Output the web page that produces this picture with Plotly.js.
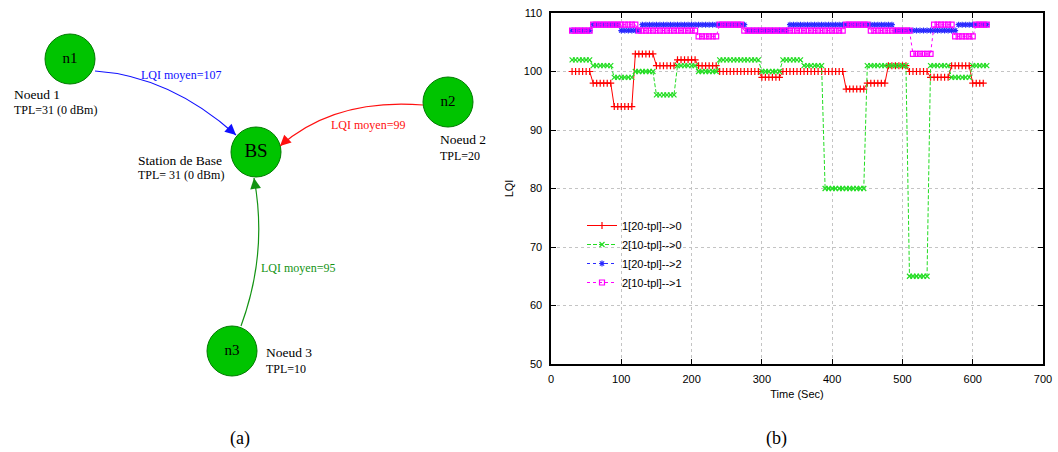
<!DOCTYPE html>
<html>
<head>
<meta charset="utf-8">
<script src="https://cdn.plot.ly/plotly-3.0.1.min.js"></script>
<style>html,body{margin:0;padding:0;background:#fff;}#chart{width:1058px;height:452px;}</style>
</head>
<body>
<div id="chart"></div>
<script>
// ---------- Panel (b) data: LQI vs time ----------
const time = [
  30,35,40,45,50,55,60,65,70,75,
  80,85,90,95,100,105,110,115,120,125,
  130,135,140,145,150,155,160,165,170,175,
  180,185,190,195,200,205,210,215,220,225,
  230,235,240,245,250,255,260,265,270,275,
  280,285,290,295,300,305,310,315,320,325,
  330,335,340,345,350,355,360,365,370,375,
  380,385,390,395,400,405,410,415,420,425,
  430,435,440,445,450,455,460,465,470,475,
  480,485,490,495,500,505,510,515,520,525,
  530,535,540,545,550,555,560,565,570,575,
  580,585,590,595,600,605,610,615,620
];
const lqi_1_to_0 = [
  100,100,100,100,100,100,98,98,98,98,
  98,98,94,94,94,94,94,94,103,103,
  103,103,103,103,101,101,101,101,101,101,
  102,102,102,102,102,102,101,101,101,101,
  101,101,100,100,100,100,100,100,100,100,
  100,100,100,100,99,99,99,99,99,99,
  100,100,100,100,100,100,100,100,100,100,
  100,100,100,100,100,100,100,100,97,97,
  97,97,97,97,98,98,98,98,98,98,
  101,101,101,101,101,101,100,100,100,100,
  100,100,99,99,99,99,99,99,101,101,
  101,101,101,101,98,98,98,98,null
];
const lqi_2_to_0 = [
  102,102,102,102,102,102,101,101,101,101,
  101,101,99,99,99,99,99,99,100,100,
  100,100,100,100,96,96,96,96,96,96,
  101,101,101,101,101,101,100,100,100,100,
  100,100,102,102,102,102,102,102,102,102,
  102,102,102,102,100,100,100,100,100,100,
  102,102,102,102,102,102,101,101,101,101,
  101,101,80,80,80,80,80,80,80,80,
  80,80,80,80,101,101,101,101,101,101,
  101,101,101,101,101,101,65,65,65,65,
  65,65,101,101,101,101,101,101,99,99,
  99,99,99,99,101,101,101,101,101
];
const lqi_1_to_2 = [
  107,107,107,107,107,107,108,108,108,108,
  108,108,108,108,107,107,107,107,107,107,
  108,108,108,108,108,108,108,108,108,108,
  108,108,108,108,108,108,108,108,108,108,
  108,108,108,108,108,108,108,108,108,108,
  107,107,107,107,107,107,107,107,107,107,
  107,107,108,108,108,108,108,108,108,108,
  108,108,108,108,108,108,108,108,108,108,
  108,108,108,108,108,108,108,108,108,108,
  108,108,107,107,107,107,107,107,107,107,
  107,107,107,107,107,107,107,107,107,107,
  108,108,108,108,108,108,108,108,108
];
const lqi_2_to_1 = [
  107,107,107,107,107,107,108,108,108,108,
  108,108,108,108,108,108,108,108,108,107,
  107,107,107,107,107,107,107,107,107,107,
  107,107,107,107,107,107,106,106,106,106,
  106,106,108,108,108,108,108,108,108,107,
  107,107,107,107,107,107,107,107,107,107,
  107,107,107,107,107,107,107,107,107,107,
  107,107,107,107,107,107,107,107,108,108,
  108,108,108,108,108,107,107,107,107,107,
  107,107,107,107,107,107,107,103,103,103,
  103,103,103,108,108,108,108,108,108,106,
  106,106,106,106,106,108,108,108,108
];
const seriesNames = ['1[20-tpl]-->0', '2[10-tpl]-->0', '1[20-tpl]-->2', '2[10-tpl]-->1'];
const xTicks = [0, 100, 200, 300, 400, 500, 600, 700];
const yTicks = [50, 60, 70, 80, 90, 100, 110];

// ---------- Panel (a) data: network diagram ----------
const nodeLabels = ['n1', 'BS', 'n2', 'n3'];
const nodeNames = ['Noeud 1', 'Station de Base', 'Noeud 2', 'Noeud 3'];
const nodeTPL = ['TPL=31 (0 dBm)', 'TPL= 31 (0 dBm)', 'TPL=20', 'TPL=10'];
const edgeLabels = ['LQI moyen=107', 'LQI moyen=99', 'LQI moyen=95'];

// ---------- layout helpers (positions, not data) ----------
const W = 1058, H = 452;
const SERIF = '"Liberation Serif", "DejaVu Serif", serif';
const SANS = '"Liberation Sans", Arial, sans-serif';
const nodePos = [[70, 59], [256, 152], [448, 102], [232, 351]];
const edgeColors = ['#1010ff', '#ff1010', '#139313'];
const edgePaths = [
  'M 95 71 Q 170 76 236 135',
  'M 423 105 Q 335 98 280 146',
  'M 241 326 Q 268 253 254 178'
];
const arrowTips = [[236, 135, 228.5, 128.3], [280, 146, 287.5, 139], [254, 178, 255.5, 188]];
const edgeLabelPos = [[181, 75], [368, 125], [298, 268]];
const nameLabelPos = [[12, 94, 110], [136, 160, 175], [438, 139, 156], [264, 352, 369]];

const traces = [];
const colors = ['#ff0000', '#22dd22', '#2a2aff', '#ff00ff'];
const dashes = ['solid', '4px,2px', 'dot', 'dot'];
const symbols = ['cross-thin-open', 'x-thin-open', 'asterisk-open', 'square-open'];
const sizes = [5, 5, 5, 5];
const ys = [lqi_1_to_0, lqi_2_to_0, lqi_1_to_2, lqi_2_to_1];
for (let i = 0; i < 4; i++) {
  traces.push({
    type: 'scatter', mode: 'lines+markers', x: time, y: ys[i], name: seriesNames[i],
    xaxis: 'x', yaxis: 'y',
    line: {color: colors[i], width: 1, dash: dashes[i]},
    marker: {symbol: symbols[i], size: sizes[i], color: colors[i], line: {color: colors[i], width: 1.2}},
    connectgaps: false, hoverinfo: 'skip'
  });
}
// diagram nodes
traces.push({
  type: 'scatter', mode: 'markers+text', xaxis: 'x2', yaxis: 'y2', showlegend: false,
  x: nodePos.map(p => p[0]), y: nodePos.map(p => p[1]), text: nodeLabels,
  textposition: 'middle center',
  textfont: {family: SERIF, size: [15, 19, 15, 15], color: '#000'},
  marker: {size: 50, color: '#00c400', line: {color: '#007a00', width: 1}},
  hoverinfo: 'skip'
});

const shapes = edgePaths.map((p, i) => ({
  type: 'path', path: p, xref: 'x2', yref: 'y2', line: {color: edgeColors[i], width: 1.2}, layer: 'below'
}));

const annotations = [];
arrowTips.forEach((a, i) => annotations.push({
  x: a[0], y: a[1], ax: a[2], ay: a[3], xref: 'x2', yref: 'y2', axref: 'x2', ayref: 'y2',
  text: '', showarrow: true, arrowhead: 2, arrowsize: 1.8, arrowwidth: 1.2, arrowcolor: edgeColors[i]
}));
edgeLabels.forEach((t, i) => annotations.push({
  x: edgeLabelPos[i][0], y: edgeLabelPos[i][1], xref: 'x2', yref: 'y2', text: t, showarrow: false,
  font: {family: SERIF, size: 12, color: edgeColors[i]}, xanchor: 'center', yanchor: 'middle'
}));
nodeNames.forEach((t, i) => {
  annotations.push({
    x: nameLabelPos[i][0], y: nameLabelPos[i][1], xref: 'x2', yref: 'y2', text: t, showarrow: false,
    font: {family: SERIF, size: 13.5, color: '#000'}, xanchor: 'left', yanchor: 'middle'
  });
  annotations.push({
    x: nameLabelPos[i][0], y: nameLabelPos[i][2], xref: 'x2', yref: 'y2', text: nodeTPL[i], showarrow: false,
    font: {family: SERIF, size: 12, color: '#000'}, xanchor: 'left', yanchor: 'middle'
  });
});
// captions
annotations.push({x: 240 / W, y: 1 - 438 / H, xref: 'paper', yref: 'paper', text: '(a)', showarrow: false,
  font: {family: SERIF, size: 18, color: '#000'}, xanchor: 'center', yanchor: 'middle'});
annotations.push({x: 776 / W, y: 1 - 438 / H, xref: 'paper', yref: 'paper', text: '(b)', showarrow: false,
  font: {family: SERIF, size: 18, color: '#000'}, xanchor: 'center', yanchor: 'middle'});

const axisCommon = {
  showline: true, linecolor: '#000', linewidth: 1.6, mirror: 'ticks',
  ticks: 'inside', ticklen: 5, tickwidth: 1, tickcolor: '#000',
  showgrid: true, gridcolor: '#c4c4c4', gridwidth: 1, griddash: 'dot', zeroline: false,
  tickfont: {family: SANS, size: 11, color: '#000'}, fixedrange: true
};

const layout = {
  width: W, height: H, margin: {l: 0, r: 0, t: 0, b: 0},
  paper_bgcolor: '#fff', plot_bgcolor: '#fff', showlegend: true,
  xaxis: Object.assign({}, axisCommon, {
    domain: [551 / W, 1043 / W], range: [0, 700], tickvals: xTicks, anchor: 'y',
    ticklabelstandoff: 4,
    title: {text: 'Time (Sec)', font: {family: SANS, size: 11, color: '#000'}, standoff: 6}
  }),
  yaxis: Object.assign({}, axisCommon, {
    domain: [1 - 364 / H, 1 - 13 / H], range: [50, 110], tickvals: yTicks, anchor: 'x',
    ticklabelstandoff: 5,
    title: {text: 'LQI', font: {family: SANS, size: 11, color: '#000'}, standoff: 8}
  }),
  xaxis2: {domain: [0, 529 / W], range: [0, 529], visible: false, fixedrange: true, anchor: 'y2'},
  yaxis2: {domain: [0, 1], range: [H, 0], visible: false, fixedrange: true, anchor: 'x2'},
  legend: {x: 582 / W, y: 1 - 211 / H, xanchor: 'left', yanchor: 'top', bgcolor: 'rgba(0,0,0,0)',
    font: {family: SANS, size: 11, color: '#000'}, tracegroupgap: 0, itemwidth: 30},
  shapes: shapes, annotations: annotations
};

Plotly.newPlot('chart', traces, layout, {displayModeBar: false, staticPlot: true});
</script>
</body>
</html>
